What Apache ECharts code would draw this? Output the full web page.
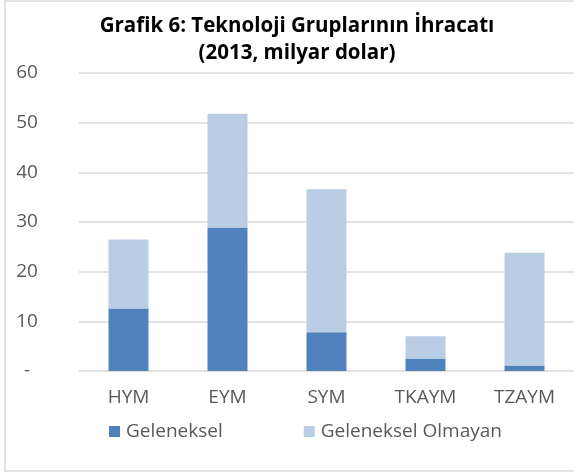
<!DOCTYPE html>
<html>
<head>
<meta charset="utf-8">
<script src="https://cdn.jsdelivr.net/npm/echarts@6/dist/echarts.min.js"></script>
<style>html,body{margin:0;padding:0;background:#fff}#c{width:574px;height:475px}</style>
</head>
<body>
<div id="c"></div>
<script>
var categories = ['HYM', 'EYM', 'SYM', 'TKAYM', 'TZAYM'];
var geleneksel = [12.6, 28.9, 7.8, 2.5, 1.1];
var gelenekselOlmayan = [13.9, 22.9, 28.8, 4.5, 22.7];
var seriesNames = ['Geleneksel', 'Geleneksel Olmayan'];
var titleLine1 = 'Grafik 6: Teknoloji Gruplarının İhracatı';
var titleLine2 = '(2013, milyar dolar)';

var chart = echarts.init(document.getElementById('c'), null, {renderer: 'canvas'});
var font = 'Open Sans';
chart.setOption({
  animation: false,
  backgroundColor: '#fff',
  graphic: [{
    type: 'rect', shape: {x: 5, y: 1, width: 620, height: 470},
    style: {fill: 'none', stroke: '#d9d9d9', lineWidth: 1.5}, silent: true
  }],
  title: [
    {text: titleLine1, left: 292, top: 11, textAlign: 'center',
     textStyle: {fontFamily: font, fontWeight: 'bold', fontSize: 20.5, color: '#000'}},
    {text: titleLine2, left: 292, top: 38, textAlign: 'center',
     textStyle: {fontFamily: font, fontWeight: 'bold', fontSize: 20.5, color: '#000'}}
  ],
  grid: {left: 79, right: -8, top: 73, bottom: 104, containLabel: false},
  legend: {
    data: seriesNames, left: 104, top: 417, itemWidth: 11, itemHeight: 11, itemGap: 81,
    icon: 'rect',
    textStyle: {fontFamily: font, fontSize: 19, color: '#595959', padding: [0, 0, 0, 1]}
  },
  xAxis: {
    type: 'category', data: categories,
    axisLine: {show: false}, axisTick: {show: false},
    axisLabel: {fontFamily: font, fontSize: 19, color: '#595959', margin: 17}
  },
  yAxis: {
    type: 'value', min: 0, max: 60, interval: 10,
    axisLine: {show: false}, axisTick: {show: false},
    splitLine: {lineStyle: {color: '#d9d9d9', width: 1.5}},
    axisLabel: {fontFamily: font, fontSize: 19, color: '#595959', align: 'center', margin: 52,
      formatter: function (v) { return v === 0 ? '-' : String(v); }}
  },
  series: [
    {name: seriesNames[0], type: 'bar', stack: 's', data: geleneksel, barWidth: 40,
     itemStyle: {color: '#4f81bd'}},
    {name: seriesNames[1], type: 'bar', stack: 's', data: gelenekselOlmayan, barWidth: 40,
     itemStyle: {color: '#b9cde5'}}
  ]
});
</script>
</body>
</html>
